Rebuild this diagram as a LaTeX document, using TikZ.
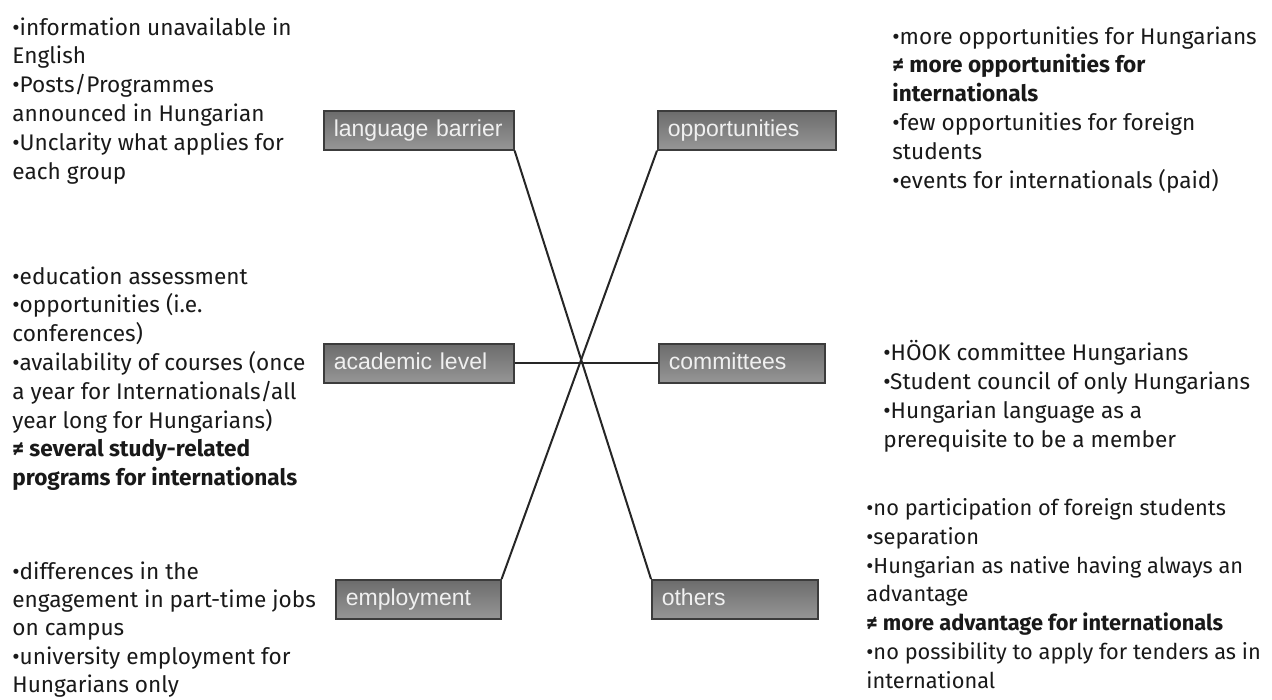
\documentclass[tikz,border=0pt]{standalone}
\usepackage{fontspec}
\setmainfont{Fira Sans}
\newfontfamily\tagfont{Liberation Sans}
\definecolor{boxtop}{RGB}{108,108,108}
\definecolor{boxbot}{RGB}{150,150,150}
\definecolor{boxrim}{RGB}{60,60,60}
\tikzset{
  tag/.style={draw=boxrim, line width=0.8pt, top color=boxtop, bottom color=boxbot,
    anchor=north west, minimum height=19.5pt, inner xsep=5pt, inner ysep=0pt,
    text height=8.5pt, text depth=2.5pt,
    align=left, text=white!94!black, font=\tagfont\fontsize{11.5}{13}\selectfont},
  notes/.style={anchor=north west, inner sep=0pt, align=left,
    font=\fontsize{11.3}{14.4}\selectfont, text=black!90, execute at begin node=\strut},
  spoke/.style={line width=1pt, black!85}
}
\begin{document}
\begin{tikzpicture}[x=0.5pt,y=-0.5pt]
\useasboundingbox (0,0) rectangle (1272,700);
% category boxes
\node[tag, text width=85pt] (lang) at (323,110) {language barrier};
\node[tag, text width=79pt] (opp) at (657,110) {opportunities};
\node[tag, text width=85pt] (acad) at (323,343) {academic level};
\node[tag, text width=73pt] (comm) at (658,343) {committees};
\node[tag, text width=72.5pt] (empl) at (335,579) {employment};
\node[tag, text width=73pt] (oth) at (651,579) {others};
% spokes
\draw[spoke] (lang.south east) -- (oth.north west);
\draw[spoke] (opp.south west) -- (empl.north east);
\draw[spoke] (acad.east) -- (comm.west);
% notes (y = first baseline - strut height)
\node[notes] (langtxt) at (12,17) {•information unavailable in\\English\\•Posts/Programmes\\announced in Hungarian\\•Unclarity what applies for\\each group};
\node[notes] (acadtxt) at (12,266) {•education assessment\\•opportunities (i.e.\\conferences)\\•availability of courses (once\\a year for Internationals/all\\year long for Hungarians)\\\textbf{≠ several study-related}\\\textbf{programs for internationals}};
\node[notes, font=\fontsize{11.3}{14.2}\selectfont] (empltxt) at (12,561) {•differences in the\\engagement in part-time jobs\\on campus\\•university employment for\\Hungarians only};
\node[notes] (opptxt) at (892,26) {•more opportunities for Hungarians\\\textbf{≠ more opportunities for}\\\textbf{internationals}\\•few opportunities for foreign\\students\\•events for internationals (paid)};
\node[notes] (commtxt) at (883,340) {•HÖOK committee Hungarians\\•Student council of only Hungarians\\•Hungarian language as a\\prerequisite to be a member};
\node[notes, font=\fontsize{10.9}{14.4}\selectfont] (othtxt) at (866,498) {•no participation of foreign students\\•separation\\•Hungarian as native having always an\\advantage\\\textbf{≠ more advantage for internationals}\\•no possibility to apply for tenders as in\\international};
\end{tikzpicture}
\end{document}
